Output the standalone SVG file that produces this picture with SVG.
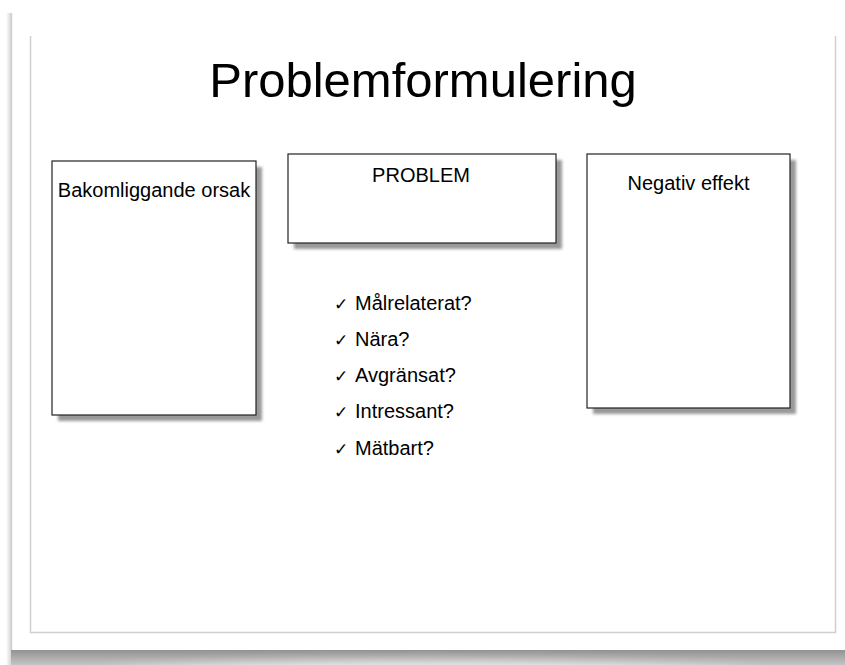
<svg xmlns="http://www.w3.org/2000/svg" width="845" height="665" viewBox="0 0 845 665">
  <defs>
    <style>
      .lbl { font-family: "Liberation Sans", Arial, sans-serif; font-size: 20px; fill: #000; }
      .title { font-family: "Liberation Sans", Arial, sans-serif; font-size: 49px; fill: #000; }
      .chk { font-family: "DejaVu Sans", sans-serif; font-size: 17px; fill: #000; }
      .box { fill: #fff; stroke: #222; stroke-width: 1.2; }
      .shadow { fill: #999; filter: url(#blur); }
      .frame { fill: none; stroke: #cfcfcf; stroke-width: 1.5; }
    </style>
    <filter id="blur" x="-10%" y="-10%" width="120%" height="120%">
      <feGaussianBlur stdDeviation="1.6"/>
    </filter>
    <filter id="soft" x="-20%" y="-200%" width="140%" height="500%">
      <feGaussianBlur stdDeviation="6"/>
    </filter>
    <linearGradient id="bottomShade" x1="0" y1="0" x2="0" y2="1">
      <stop offset="0" stop-color="#929292"/>
      <stop offset="1" stop-color="#c4c4c4"/>
    </linearGradient>
    <linearGradient id="leftShade" x1="0" y1="0" x2="1" y2="0">
      <stop offset="0" stop-color="#ffffff"/>
      <stop offset="1" stop-color="#d6d6d6"/>
    </linearGradient>
  </defs>

  <!-- page background -->
  <rect x="0" y="0" width="845" height="665" fill="#fff"/>

  <!-- outer slide shadow at bottom -->
  <rect x="11" y="650" width="834" height="15" fill="url(#bottomShade)"/>
  <ellipse cx="430" cy="678" rx="340" ry="16" fill="#ffffff" opacity="0.7" filter="url(#soft)"/>
  <!-- outer slide left edge -->
  <rect x="6" y="13" width="5" height="652" fill="url(#leftShade)"/>
  <rect x="11" y="13" width="834" height="637" fill="#fff"/>
  <line x1="11.5" y1="13" x2="11.5" y2="650" stroke="#d0d0d0" stroke-width="1.5"/>

  <!-- inner frame -->
  <path class="frame" d="M30.5 36 V632.5 H835.5 V36"/>

  <!-- title -->
  <g id="title">
    <text class="title" x="423" y="97" text-anchor="middle">Problemformulering</text>
  </g>

  <!-- Bakomliggande orsak -->
  <g id="node-orsak">
    <rect class="shadow" x="58" y="167" width="204" height="254"/>
    <rect class="box" x="52" y="161" width="204" height="254"/>
    <text class="lbl" x="154" y="197" text-anchor="middle">Bakomliggande orsak</text>
  </g>

  <!-- PROBLEM -->
  <g id="node-problem">
    <rect class="shadow" x="294" y="160" width="268" height="89"/>
    <rect class="box" x="288" y="154" width="268" height="89"/>
    <text class="lbl" x="421" y="182" text-anchor="middle">PROBLEM</text>
  </g>

  <!-- Negativ effekt -->
  <g id="node-effekt">
    <rect class="shadow" x="593" y="160" width="203" height="254"/>
    <rect class="box" x="587" y="154" width="203" height="254"/>
    <text class="lbl" x="688.5" y="190" text-anchor="middle">Negativ effekt</text>
  </g>

  <!-- checklist -->
  <g id="checklist">
    <text class="chk" x="334" y="310">✓</text>
    <text class="lbl" x="355" y="310">Målrelaterat?</text>
    <text class="chk" x="334" y="346">✓</text>
    <text class="lbl" x="355" y="346">Nära?</text>
    <text class="chk" x="334" y="382">✓</text>
    <text class="lbl" x="355" y="382">Avgränsat?</text>
    <text class="chk" x="334" y="418">✓</text>
    <text class="lbl" x="355" y="418">Intressant?</text>
    <text class="chk" x="334" y="455">✓</text>
    <text class="lbl" x="355" y="455">Mätbart?</text>
  </g>

  <g id="connectors"/>
</svg>
